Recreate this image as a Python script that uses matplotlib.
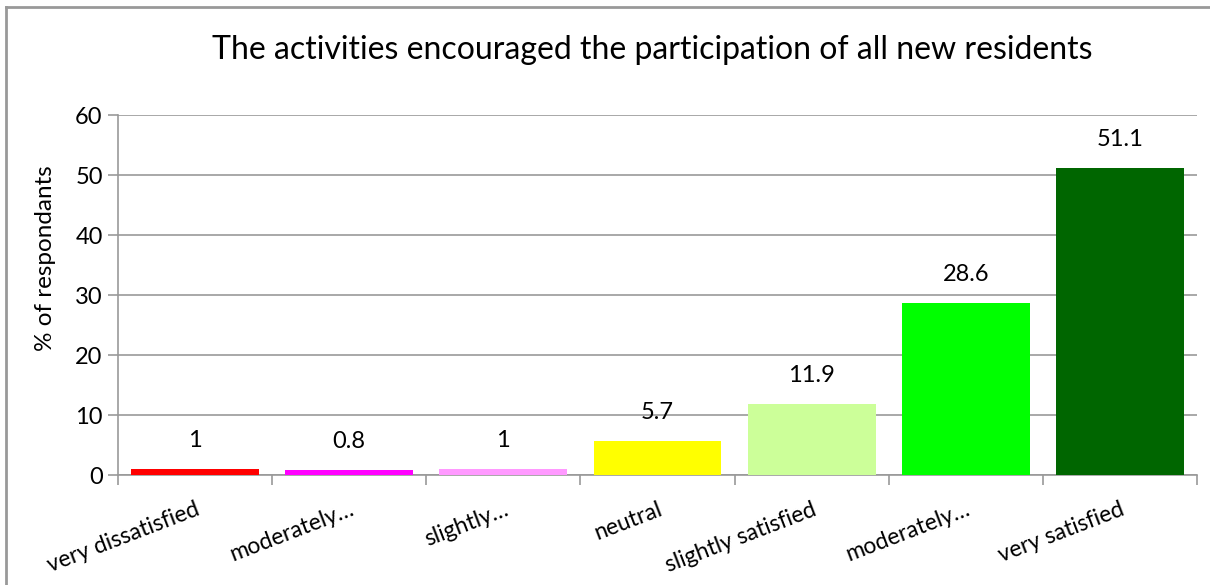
import matplotlib
matplotlib.use("Agg")
import matplotlib.pyplot as plt
from matplotlib.lines import Line2D
import numpy as np

categories = ["very dissatisfied", "moderately…", "slightly…", "neutral",
              "slightly satisfied", "moderately…", "very satisfied"]
values = [1, 0.8, 1, 5.7, 11.9, 28.6, 51.1]
value_labels = ["1", "0.8", "1", "5.7", "11.9", "28.6", "51.1"]
colors = ["#FF0000", "#FF00FF", "#FF99FF", "#FFFF00", "#CCFF99", "#00FF00", "#006600"]
title = "The activities encouraged the participation of all new residents"
ylabel = "% of respondants"
yticks = [0, 10, 20, 30, 40, 50, 60]

plt.rcParams['font.family'] = ['Lato', 'DejaVu Sans']

W, H = 1210, 585
fig = plt.figure(figsize=(W / 100, H / 100), dpi=100)
ax = fig.add_axes([118 / W, 1 - 475 / H, (1197 - 118) / W, (475 - 115) / H])

x = np.arange(len(categories))
ax.bar(x, values, width=0.83, color=colors, zorder=3)
for xi, v, lab in zip(x, values, value_labels):
    ax.annotate(lab, (xi, v), xytext=(0, 13), textcoords="offset points",
                ha="center", va="bottom", fontsize=17, color="black")

ax.set_xlim(-0.5, len(categories) - 0.5)
ax.set_ylim(0, 60)
ax.set_yticks(yticks)
ax.set_yticklabels([str(t) for t in yticks], fontsize=17)
ax.yaxis.grid(True, color="#999999", linewidth=1.2, zorder=0)
ax.set_axisbelow(True)

ax.set_xticks(np.arange(-0.5, len(categories), 1.0))
ax.set_xticklabels([])
ax.set_xticks(x, minor=True)
ax.set_xticklabels(categories, minor=True, fontsize=16.5, rotation=21,
                   ha="right", rotation_mode="anchor")
ax.tick_params(axis="x", which="minor", length=0, pad=17)
ax.tick_params(axis="x", which="major", length=7, width=1.2, color="#999999",
               direction="out")
ax.tick_params(axis="y", length=7, width=1.2, color="#999999", direction="out", pad=4)

for s in ["top", "right"]:
    ax.spines[s].set_visible(False)
for s in ["left", "bottom"]:
    ax.spines[s].set_color("#999999")
    ax.spines[s].set_linewidth(1.2)

ax.set_ylabel(ylabel, fontsize=17.5)
ax.yaxis.set_label_coords(-0.057, 0.603)

fig.text(652 / W, 1 - 50 / H, title, ha="center", va="center", fontsize=23)

fig.lines.append(Line2D([6 / W, 1.0], [1 - 7 / H, 1 - 7 / H], transform=fig.transFigure,
                        color="#999999", linewidth=2))
fig.lines.append(Line2D([6 / W, 6 / W], [0.0, 1 - 7 / H], transform=fig.transFigure,
                        color="#999999", linewidth=2))

fig.savefig("out.png", dpi=100)
